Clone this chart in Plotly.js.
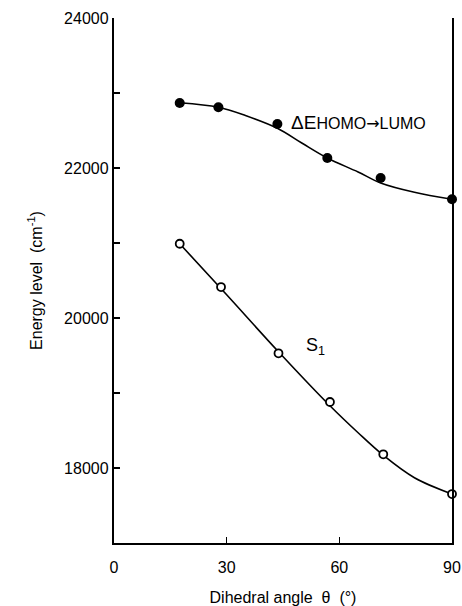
<!DOCTYPE html>
<html>
<head>
<meta charset="utf-8">
<script src="https://cdn.plot.ly/plotly-3.0.1.min.js"></script>
<style>html,body{margin:0;padding:0;background:#fff;}#chart{width:462px;height:606px;}</style>
</head>
<body>
<div id="chart"></div>
<script>
// Measured points: ΔE(HOMO→LUMO), filled circles
const angleHL = [17.5, 27.8, 43.5, 56.8, 71.0, 90.0];
const energyHL = [22867, 22809, 22587, 22133, 21867, 21583];
// Smooth fitted curve drawn through ΔE points
const fitAngleHL = [17.5, 27.8, 35, 43.5, 50, 56.8, 65, 71, 80, 90];
const fitEnergyHL = [22870, 22810, 22700, 22530, 22333, 22133, 21947, 21800, 21676, 21583];

// Measured points: S1, open circles
const angleS1 = [17.5, 28.5, 43.8, 57.5, 71.7, 90.0];
const energyS1 = [20990, 20413, 19529, 18880, 18183, 17653];
// Smooth fitted curve through S1 points
const fitAngleS1 = [17.5, 30, 43.8, 57.5, 65, 71.7, 80, 90];
const fitEnergyS1 = [20990, 20310, 19550, 18830, 18470, 18170, 17870, 17653];

const xTicks = [0, 30, 60, 90];
const yTicks = [18000, 20000, 22000, 24000];
const yMinorTicks = [19000, 21000, 23000];

const FONT = 'Liberation Sans, Arial, sans-serif';

const traces = [
  {x: fitAngleHL, y: fitEnergyHL, mode: 'lines', line: {color: '#000', width: 1.6, shape: 'spline', smoothing: 1}, hoverinfo: 'skip', showlegend: false},
  {x: fitAngleS1, y: fitEnergyS1, mode: 'lines', line: {color: '#000', width: 1.6, shape: 'spline', smoothing: 1}, hoverinfo: 'skip', showlegend: false},
  {x: angleHL, y: energyHL, mode: 'markers', marker: {color: '#000', size: 10, symbol: 'circle'}, showlegend: false, cliponaxis: false},
  {x: angleS1, y: energyS1, mode: 'markers', marker: {color: '#fff', size: 8, symbol: 'circle', line: {color: '#000', width: 1.8}}, showlegend: false, cliponaxis: false}
];

const layout = {
  width: 462, height: 606,
  margin: {l: 114, r: 10, t: 18, b: 63},
  paper_bgcolor: '#fff', plot_bgcolor: '#fff',
  font: {family: FONT, size: 16, color: '#000'},
  showlegend: false,
  xaxis: {
    range: [0, 90], tickvals: xTicks, ticktext: xTicks.map(String),
    ticks: 'inside', ticklen: 6, tickwidth: 1.5, tickcolor: '#000',
    showline: true, linecolor: '#000', linewidth: 2.2, mirror: false,
    showgrid: false, zeroline: false,
    tickfont: {family: FONT, size: 16, color: '#000'},
    ticklabelstandoff: 9,
    title: {text: 'Dihedral angle  θ  (°)', font: {family: FONT, size: 16, color: '#000'}, standoff: 16}
  },
  yaxis: {
    range: [17000, 24000], tickvals: yTicks, ticktext: yTicks.map(String),
    ticks: 'inside', ticklen: 6, tickwidth: 1.5, tickcolor: '#000',
    minor: {tickvals: yMinorTicks, ticks: 'inside', ticklen: 6, tickwidth: 1.5, tickcolor: '#000'},
    showline: true, linecolor: '#000', linewidth: 2.2, mirror: true,
    showgrid: false, zeroline: false,
    tickfont: {family: FONT, size: 16, color: '#000'},
    title: {text: 'Energy level  (cm<sup>-1</sup>)', font: {family: FONT, size: 16, color: '#000'}, standoff: 18}
  },
  annotations: [
    {x: 46.5, y: 22613, xref: 'x', yref: 'y', xanchor: 'left', yanchor: 'middle', showarrow: false,
     text: 'ΔE<span style="font-size:16px">HOMO</span><span style="font-size:16px;font-family:DejaVu Sans">→</span><span style="font-size:16px">LUMO</span>',
     font: {family: FONT, size: 19, color: '#000'}},
    {x: 50.5, y: 19620, xref: 'x', yref: 'y', xanchor: 'left', yanchor: 'middle', showarrow: false,
     text: 'S<sub>1</sub>', font: {family: FONT, size: 18, color: '#000'}}
  ]
};

Plotly.newPlot('chart', traces, layout, {displayModeBar: false, staticPlot: true});
</script>
</body>
</html>
